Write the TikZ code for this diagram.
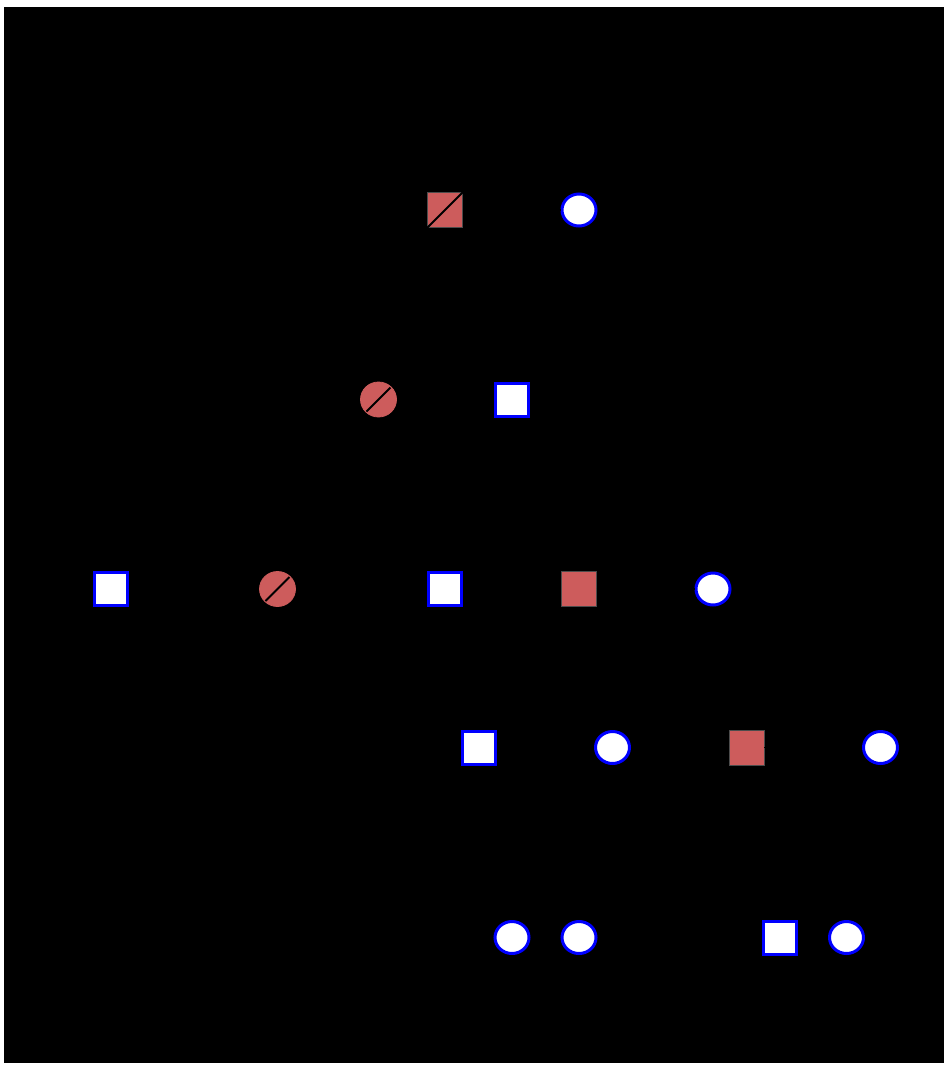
\documentclass[tikz,border=0pt]{standalone}
\usetikzlibrary{shapes.geometric,calc}
\definecolor{affected}{HTML}{CD5C5C}
\tikzset{
  male/.style={rectangle, draw=blue, line width=3pt, fill=white, minimum size=33pt, inner sep=0pt},
  female/.style={ellipse, draw=blue, line width=3pt, fill=white, minimum width=34pt, minimum height=32pt, inner sep=0pt},
  amale/.style={rectangle, draw=black!70, line width=0.8pt, fill=affected, minimum size=35pt, inner sep=0pt},
  afemale/.style={ellipse, draw=affected, line width=0.8pt, fill=affected, minimum width=36pt, minimum height=35pt, inner sep=0pt},
  slash/.style={draw=black, line width=2pt},
  link/.style={draw=black, line width=1.5pt}
}
\begin{document}
\begin{tikzpicture}[x=1pt,y=-1pt]
\useasboundingbox (0,0) rectangle (947,1066);
\fill[white] (0,0) rectangle (947,1066);
\fill[black] (4,7) rectangle (944,1063);
% generation 1
\node[amale] (a1) at (445,210) {};
\node[female] (a2) at (579,210) {};
% generation 2
\node[afemale] (b1) at (378.5,399.5) {};
\node[male] (b2) at (512,399.5) {};
% generation 3
\node[male] (c1) at (110.5,589) {};
\node[afemale] (c2) at (277.5,589) {};
\node[male] (c3) at (445,589) {};
\node[amale] (c4) at (579,589) {};
\node[female] (c5) at (713,589) {};
% generation 4
\node[male] (d1) at (479,747.5) {};
\node[female] (d2) at (612.5,747.5) {};
\node[amale] (d3) at (746.5,747.5) {};
\node[female] (d4) at (880.5,747.5) {};
% generation 5
\node[female] (e1) at (512,937.5) {};
\node[female] (e2) at (579,937.5) {};
\node[male] (e3) at (780,937.5) {};
\node[female] (e4) at (846.5,937.5) {};
% deceased slashes
\draw[slash] (a1.south west) -- (a1.north east);
\draw[slash] ($(b1.center)+(-12,12)$) -- ($(b1.center)+(12,-12)$);
\draw[slash] ($(c2.center)+(-12,12)$) -- ($(c2.center)+(12,-12)$);
% connectors (black on black)
\coordinate (m1) at ($(a1)!0.5!(a2)$);
\coordinate (m2) at ($(b1)!0.5!(b2)$);
\coordinate (m3) at ($(c4)!0.5!(c5)$);
\coordinate (m4) at ($(d1)!0.5!(d2)$);
\coordinate (m5) at ($(d3)!0.5!(d4)$);
\coordinate (s2) at ($(m2)+(0,120)$);
\coordinate (s3) at ($(m3)+(0,90)$);
\coordinate (s4) at ($(m4)+(0,110)$);
\coordinate (s5) at ($(m5)+(0,110)$);
\begin{scope}[on background layer/.style={}]
\draw[link] (a1) -- (a2);
\draw[link] (b1) -- (b2);
\draw[link] (c1) -- (c2);
\draw[link] (c4) -- (c5);
\draw[link] (d1) -- (d2);
\draw[link] (d3) -- (d4);
\draw[link] (m1) -- (b2);
\draw[link] (m2) -- (s2) -| (c3);
\draw[link] (s2) -| (c4);
\draw[link] (m3) -- (s3) -| (d2);
\draw[link] (s3) -| (d3);
\draw[link] (m4) -- (s4) -| (e1);
\draw[link] (s4) -| (e2);
\draw[link] (m5) -- (s5) -| (e3);
\draw[link] (s5) -| (e4);
\end{scope}
\end{tikzpicture}
\end{document}
